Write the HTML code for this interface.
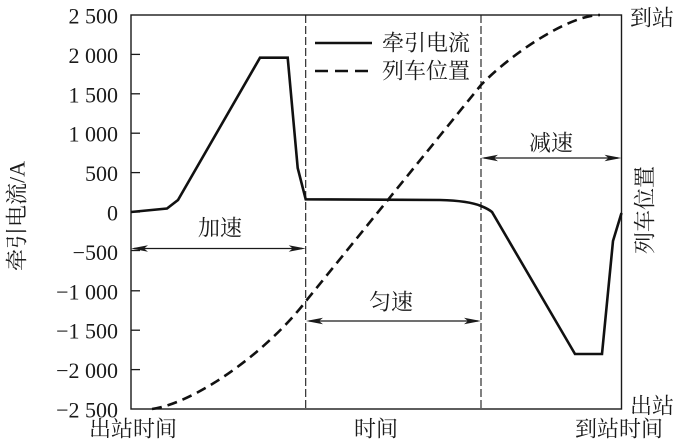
<!DOCTYPE html>
<html>
<head>
<meta charset="utf-8">
<style>
  html, body { margin:0; padding:0; background:#fff; }
  body { width:674px; height:444px; overflow:hidden; }
  svg { display:block; }
  .num { font-family:"Liberation Serif","Noto Serif CJK SC",serif; font-size:22px; fill:#1a1a1a; }
  .cjk { font-family:"Liberation Serif","Noto Serif CJK SC","Noto Sans CJK SC",serif; font-size:22px; fill:#1a1a1a; }
</style>
</head>
<body>
<svg width="674" height="444" viewBox="0 0 674 444" xmlns="http://www.w3.org/2000/svg">
  <!-- frame -->
  <rect x="131" y="15" width="490.5" height="394" fill="none" stroke="#1a1a1a" stroke-width="1.4"/>

  <!-- ticks -->
  <g stroke="#1a1a1a" stroke-width="1.3">
    <line x1="131" y1="54.4" x2="140" y2="54.4"/>
    <line x1="131" y1="93.8" x2="140" y2="93.8"/>
    <line x1="131" y1="133.2" x2="140" y2="133.2"/>
    <line x1="131" y1="172.6" x2="140" y2="172.6"/>
    <line x1="131" y1="212" x2="140" y2="212"/>
    <line x1="131" y1="250.5" x2="140" y2="250.5"/>
    <line x1="131" y1="290.8" x2="140" y2="290.8"/>
    <line x1="131" y1="330.2" x2="140" y2="330.2"/>
    <line x1="131" y1="369.6" x2="140" y2="369.6"/>
  </g>

  <!-- tick labels -->
  <g class="num" text-anchor="end">
    <text x="118" y="23.5">2 500</text>
    <text x="118" y="62.9">2 000</text>
    <text x="118" y="102.3">1 500</text>
    <text x="118" y="141.7">1 000</text>
    <text x="118" y="181.1">500</text>
    <text x="118" y="220.5">0</text>
    <text x="118" y="259.9">−500</text>
    <text x="118" y="299.3">−1 000</text>
    <text x="118" y="338.7">−1 500</text>
    <text x="118" y="378.1">−2 000</text>
    <text x="118" y="417.5">−2 500</text>
  </g>

  <!-- vertical phase dividers -->
  <g stroke="#1a1a1a" stroke-width="1.1" stroke-dasharray="8 3">
    <line x1="305.7" y1="15" x2="305.7" y2="409"/>
    <line x1="481" y1="15" x2="481" y2="409"/>
  </g>

  <!-- traction current -->
  <path d="M131,212 L167,208.5 L178,200 L260,57.7 L287.7,57.7 L297.7,168 L305.7,199.3 L440,200 C460,200.5 474,203 481,206 C486,208 489,209.5 492,212 L575,354 L602,354 L613,241 L621.5,213"
        fill="none" stroke="#111" stroke-width="2.6" stroke-linejoin="miter"/>

  <!-- train position -->
  <path d="M152,409 C195,403 266,353 306,301 L481,85 C513,52 570,15 600,15"
        fill="none" stroke="#111" stroke-width="2.6" stroke-dasharray="10 6"/>

  <!-- legend -->
  <line x1="315" y1="43" x2="372" y2="43" stroke="#111" stroke-width="2.6"/>
  <line x1="315" y1="71" x2="369" y2="71" stroke="#111" stroke-width="2.6" stroke-dasharray="13 7"/>
  <text class="cjk" x="426" y="43" text-anchor="middle" dominant-baseline="central">牵引电流</text>
  <text class="cjk" x="426" y="71" text-anchor="middle" dominant-baseline="central">列车位置</text>

  <!-- phase arrows -->
  <g stroke="#1a1a1a" stroke-width="1.2">
    <line x1="134" y1="248.5" x2="302" y2="248.5"/>
    <line x1="309" y1="321" x2="478" y2="321"/>
    <line x1="484" y1="158" x2="618" y2="158"/>
  </g>
  <g fill="#1a1a1a">
    <polygon points="131,248.5 148,245.3 144,248.5 148,251.7"/>
    <polygon points="305.7,248.5 288.7,245.3 292.7,248.5 288.7,251.7"/>
    <polygon points="306,321 323,317.8 319,321 323,324.2"/>
    <polygon points="481,321 464,317.8 468,321 464,324.2"/>
    <polygon points="481,158 498,154.8 494,158 498,161.2"/>
    <polygon points="621.5,158 604.5,154.8 608.5,158 604.5,161.2"/>
  </g>

  <!-- phase labels -->
  <text class="cjk" x="220" y="228" text-anchor="middle" dominant-baseline="central">加速</text>
  <text class="cjk" x="391" y="302" text-anchor="middle" dominant-baseline="central">匀速</text>
  <text class="cjk" x="551" y="143" text-anchor="middle" dominant-baseline="central">减速</text>

  <!-- axis labels -->
  <text class="cjk" x="0" y="0" text-anchor="middle" dominant-baseline="central" transform="translate(17,216) rotate(-90)">牵引电流/A</text>
  <text class="cjk" x="0" y="0" text-anchor="middle" dominant-baseline="central" transform="translate(645,210) rotate(-90)">列车位置</text>

  <text class="cjk" x="652" y="18" text-anchor="middle" dominant-baseline="central">到站</text>
  <text class="cjk" x="652" y="406" text-anchor="middle" dominant-baseline="central">出站</text>

  <text class="cjk" x="133" y="429" text-anchor="middle" dominant-baseline="central">出站时间</text>
  <text class="cjk" x="376" y="429" text-anchor="middle" dominant-baseline="central">时间</text>
  <text class="cjk" x="619" y="429" text-anchor="middle" dominant-baseline="central">到站时间</text>
</svg>
</body>
</html>
